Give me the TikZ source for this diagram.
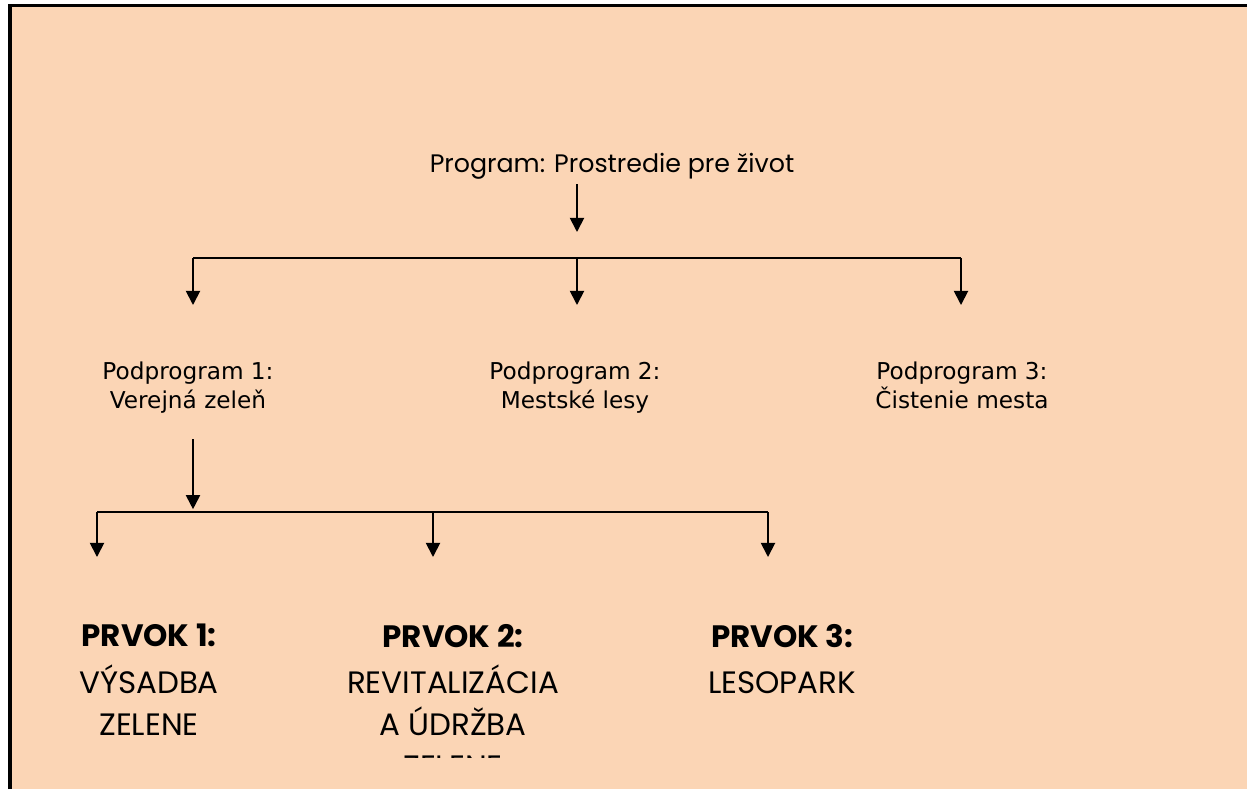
\documentclass[tikz,border=0pt]{standalone}
\usepackage{fontspec}
\setmainfont{Poppins}
\newfontfamily\verdana{DejaVu Sans}
\usepackage{tikz}
\usetikzlibrary{arrows.meta}
\definecolor{peach}{HTML}{FBD5B5}

\begin{document}
\begin{tikzpicture}[x=0.025cm,y=-0.025cm,
    arr/.style={line width=1.3pt,-{Triangle[length=10pt,width=10pt]}},
    bar/.style={line width=1.3pt},
    prog/.style={font=\fontsize{18}{22}\selectfont},
    sub/.style={align=center,anchor=north,inner sep=0pt,font=\verdana\fontsize{16.5}{20.5}\selectfont},
    elem/.style={align=center,anchor=north,font=\fontsize{22}{29.8}\selectfont}]
    \useasboundingbox (0,0) rectangle (1247,789);
    \fill[peach] (10,5) rectangle (1247,789);
    \draw[line width=0.09cm] (10,789) -- (10,5.5) -- (1247,5.5);
    \node[prog] (prog) at (612,166) {Program: Prostredie pre život};
    \coordinate (p0) at (577,232);
    \coordinate (b0l) at (193,258);
    \coordinate (b0m) at (577,258);
    \coordinate (b0r) at (961,258);
    \coordinate (t1) at (193,305);
    \coordinate (t2) at (577,305);
    \coordinate (t3) at (961,305);
    \draw[arr] (prog.south -| p0) -- (p0);
    \draw[bar] (b0l) -- (b0r);
    \draw[arr] (b0l) -- (t1);
    \draw[arr] (b0m) -- (t2);
    \draw[arr] (b0r) -- (t3);
    \node[sub] (sub1) at (188,362) {Podprogram 1:\\Verejná zeleň};
    \node[sub] (sub2) at (575,362) {Podprogram 2:\\Mestské lesy};
    \node[sub] (sub3) at (962,362) {Podprogram 3:\\Čistenie mesta};
    \coordinate (b1l) at (97,512);
    \coordinate (b1m) at (193,512);
    \coordinate (b1r) at (768,512);
    \coordinate (b1c) at (433,512);
    \coordinate (u1) at (97,557);
    \coordinate (u2) at (433,557);
    \coordinate (u3) at (768,557);
    \draw[arr,shorten <=18pt,shorten >=2pt] (sub1.south -| b1m) -- (b1m);
    \draw[bar] (b1l) -- (b1r);
    \draw[arr] (b1l) -- (u1);
    \draw[arr] (b1c) -- (u2);
    \draw[arr] (b1r) -- (u3);
    \node[elem] (elem1) at (149,619) {\textbf{PRVOK 1:}\\[3.5pt]VÝSADBA\\ZELENE};
    \begin{scope}
        \clip (0,0) rectangle (1247,757);
        \node[elem] (elem2) at (453,619) {\textbf{PRVOK 2:}\\[3.5pt]REVITALIZÁCIA\\A ÚDRŽBA\\ZELENE};
    \end{scope}
    \node[elem] (elem3) at (782,619) {\textbf{PRVOK 3:}\\[3.5pt]LESOPARK};
\end{tikzpicture}
\end{document}
